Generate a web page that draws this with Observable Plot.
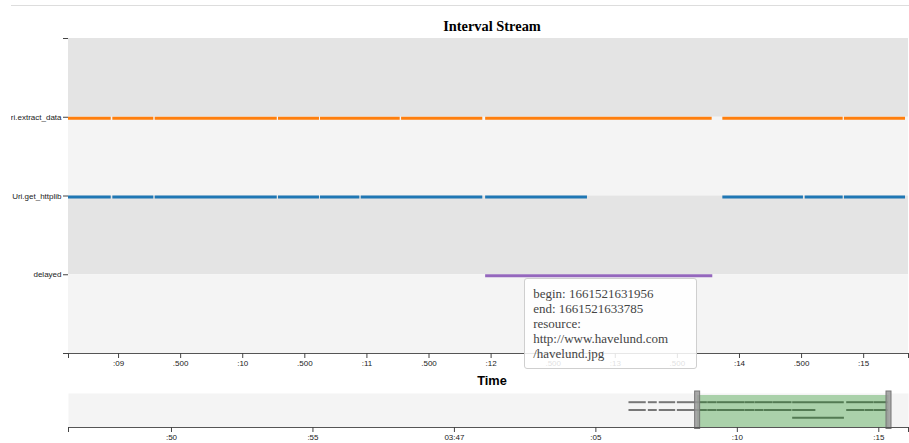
<!DOCTYPE html>
<html>
<head>
<meta charset="utf-8">
<script src="https://cdn.jsdelivr.net/npm/d3@7"></script>
<script src="https://cdn.jsdelivr.net/npm/@observablehq/plot@0.6"></script>
<style>
  html, body { margin: 0; padding: 0; background: #fff; }
  #root { position: relative; width: 909px; height: 443px; overflow: hidden; background: #fff; }
  #topline { position: absolute; left: 11px; top: 5px; width: 898px; height: 1px; background: #dddddd; }
  #title { position: absolute; left: 492px; top: 19px; transform: translateX(-50%); white-space: nowrap;
           font: bold 14.4px/14.4px "Liberation Serif", "Times New Roman", serif; color: #000; }
  #xlabel { position: absolute; left: 492px; top: 375px; transform: translateX(-50%); white-space: nowrap;
           font: bold 12.8px/12.8px "Liberation Sans", Arial, sans-serif; color: #000; }
  #mainclip { position: absolute; left: 11px; top: 0; width: 898px; height: 380px; overflow: hidden; }
  #main { position: absolute; left: -11px; top: 0; }
  #mini { position: absolute; left: 0; top: 391px; }
  #tip { position: absolute; box-sizing: border-box; width: 173px; padding: 7px 8px 7px 8px;
         background: rgba(255,255,255,0.86); border: 1px solid #cfcfcf; border-radius: 3px;
         font: 13px/15px "Liberation Serif", "Times New Roman", serif; color: #444; white-space: nowrap; }
</style>
</head>
<body>
<div id="root">
  <div id="topline"></div>
  <div id="title">Interval Stream</div>
  <div id="mainclip"><div id="main"></div></div>
  <div id="xlabel">Time</div>
  <div id="mini"></div>
  <div id="tip"></div>
</div>
<script>
// ---- data (epoch milliseconds) ----
const categories = ["Uri.extract_data", "Uri.get_httplib", "delayed"];
const categoryColors = ["#ff7f0e", "#1f77b4", "#9467bd"];

const extractData = [
  [1661521626170, 1661521626780],
  [1661521626855, 1661521627170],
  [1661521627240, 1661521627820],
  [1661521627880, 1661521628941],
  [1661521628954, 1661521629284],
  [1661521629295, 1661521630278],
  [1661521630288, 1661521630618],
  [1661521630626, 1661521631268],
  [1661521631279, 1661521631933],
  [1661521631956, 1661521633780],
  [1661521633866, 1661521634835],
  [1661521634845, 1661521635337]
];
const getHttplib = [
  [1661521626170, 1661521626780],
  [1661521626855, 1661521627170],
  [1661521627240, 1661521627820],
  [1661521627880, 1661521628941],
  [1661521628954, 1661521629284],
  [1661521629295, 1661521630278],
  [1661521630288, 1661521630618],
  [1661521630626, 1661521630943],
  [1661521630954, 1661521631933],
  [1661521631956, 1661521632776],
  [1661521633866, 1661521634515],
  [1661521634529, 1661521634835],
  [1661521634845, 1661521635337]
];
const delayed = [
  [1661521631956, 1661521633785]
];
const delayedResource = ["http://www.havelund.com", "/havelund.jpg"];

// visible windows
const mainDomain = [1661521628597, 1661521635361];   // = brush extent
const miniDomain = [1661521606360, 1661521636050];
const TZ_OFFSET_HOURS = 2; // labels shown in CEST

const series = [extractData, getHttplib, delayed];
const intervals = series.flatMap((arr, k) =>
  arr.map(([b, e]) => ({name: categories[k], row: k + 1, begin: new Date(b), end: new Date(e)})));
const yLabels = ["", ...categories, ""];
const bands = d3.range(categories.length + 1);

// d3-style multi-scale time format (local offset applied)
const fMs = d3.utcFormat(".%L"), fSec = d3.utcFormat(":%S"), fMin = d3.utcFormat("%I:%M"),
      fHour = d3.utcFormat("%I %p"), fDay = d3.utcFormat("%a %d");
function timeTick(d) {
  const t = new Date(+d + TZ_OFFSET_HOURS * 3600e3);
  return (d3.utcSecond(t) < t ? fMs : d3.utcMinute(t) < t ? fSec :
          d3.utcHour(t) < t ? fMin : d3.utcDay(t) < t ? fHour : fDay)(t);
}

const font = {fontSize: "8px", fontFamily: "'Liberation Sans', Arial, sans-serif",
              background: "none", overflow: "visible", color: "#222"};

const mainPlot = Plot.plot({
  width: 909, height: 372,
  marginTop: 38, marginBottom: 19, marginLeft: 68, marginRight: 1,
  style: font,
  x: {type: "utc", domain: mainDomain.map(d => new Date(d)), clamp: true},
  y: {domain: [0, categories.length + 1], reverse: true},
  color: {domain: categories, range: categoryColors},
  marks: [
    Plot.rect(bands, {y1: d => d, y2: d => d + 1, fill: d => d % 2 ? "#f4f4f4" : "#e4e4e4"}),
    Plot.ruleY(intervals, {y: "row", x1: "begin", x2: "end", stroke: "name", strokeWidth: 3.2, dy: 1}),
    Plot.ruleY([categories.length + 1], {stroke: "#555"}),
    Plot.axisY({ticks: d3.range(categories.length + 2), tickFormat: i => yLabels[i],
                tickSize: 5, tickPadding: 2, label: null, stroke: "#444"}),
    Plot.axisX({ticks: 13, tickFormat: timeTick, tickSize: 5, tickPadding: 2, label: null, stroke: "#444"}),
    Plot.axisX({ticks: mainDomain.map(d => new Date(d)), tickFormat: () => "", tickSize: 5, label: null, stroke: "#444"})
  ]
});
document.getElementById("main").appendChild(mainPlot);

const miniPlot = Plot.plot({
  width: 909, height: 52,
  marginTop: 2, marginBottom: 16, marginLeft: 68, marginRight: 1,
  style: font,
  x: {type: "utc", domain: miniDomain.map(d => new Date(d))},
  y: {domain: [0, categories.length + 1], range: [2.9, 34.1], axis: null},
  marks: [
    Plot.frame({fill: "#f4f4f4", stroke: "none"}),
    Plot.ruleY(intervals, {y: "row", x1: "begin", x2: "end", stroke: "#777", strokeWidth: 2}),
    Plot.rect([mainDomain], {x1: d => new Date(d[0]), x2: d => new Date(d[1]), fill: "green", fillOpacity: 0.3, insetTop: 2}),
    Plot.rect(mainDomain, {x1: d => new Date(d), x2: d => new Date(d), insetLeft: -2.5, insetRight: -2.5,
                           insetTop: -2, insetBottom: -1.5, fill: "#999", fillOpacity: 0.85, stroke: "#777"}),
    Plot.ruleY([categories.length + 1], {stroke: "#555", dy: 1.9}),
    Plot.axisX({ticks: 8, tickFormat: timeTick, tickSize: 5, tickPadding: 2, label: null, stroke: "#444"}),
    Plot.axisX({ticks: miniDomain.map(d => new Date(d)), tickFormat: () => "", tickSize: 5, label: null, stroke: "#444"})
  ]
});
document.getElementById("mini").appendChild(miniPlot);

// tooltip for the delayed interval, positioned through the main plot's scales
const sx = mainPlot.scale("x"), sy = mainPlot.scale("y");
const tip = document.getElementById("tip");
const [db, de] = delayed[0];
tip.innerHTML = [`begin: ${db}`, `end: ${de}`, `resource:`, ...delayedResource].join("<br>");
tip.style.left = (sx.apply(new Date(db)) + 39) + "px";
tip.style.top = (sy.apply(3) + 4) + "px";
</script>
</body>
</html>
